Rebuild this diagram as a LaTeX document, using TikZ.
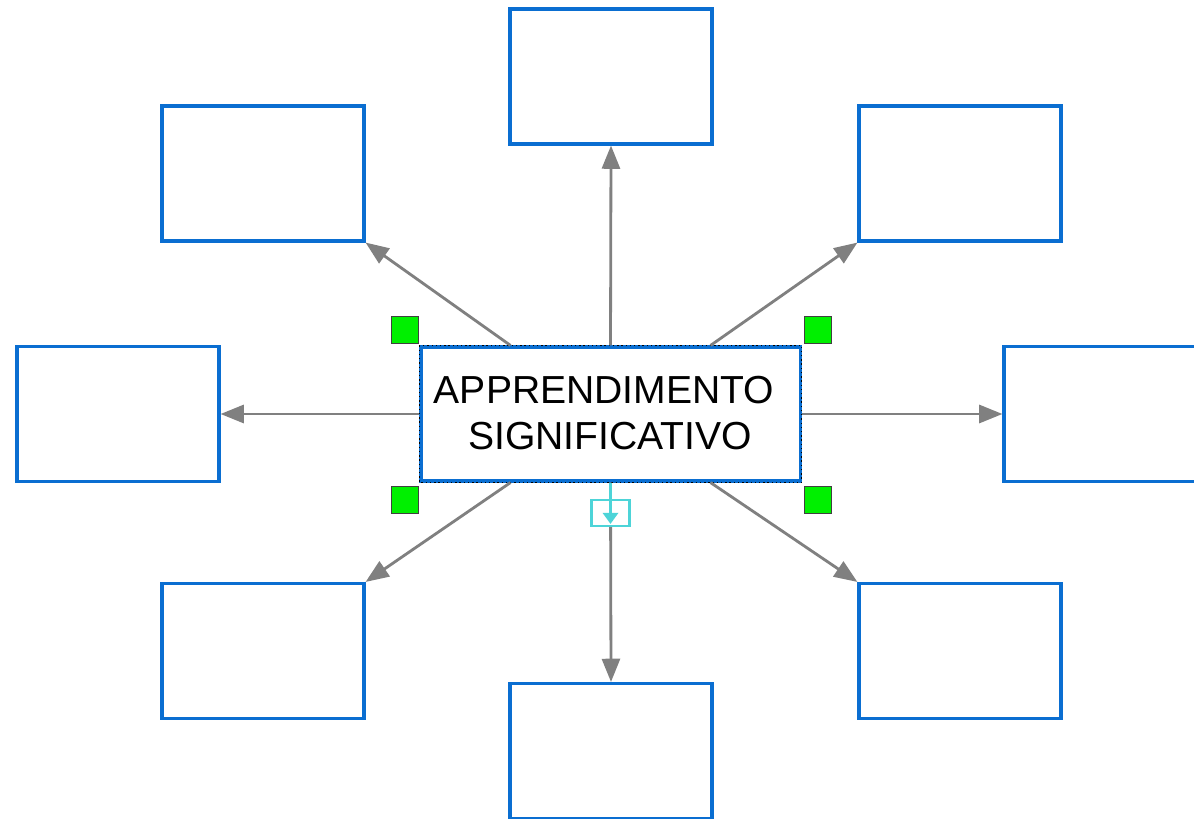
\documentclass[tikz,border=0pt]{standalone}
\usepackage{fontspec}
\setmainfont{Liberation Sans}
\usetikzlibrary{arrows.meta, positioning, calc}
\definecolor{boxblue}{HTML}{0A6ED1}
\definecolor{linkgray}{HTML}{808080}
\definecolor{handlegreen}{HTML}{00F000}
\definecolor{iconcyan}{HTML}{4DD4D8}

\begin{document}
\begin{tikzpicture}[x=0.025cm, y=-0.025cm,
    conceptbox/.style={draw=boxblue, line width=2.2pt, fill=white, minimum width=5.05cm, minimum height=3.375cm},
    link/.style={draw=linkgray, line width=2pt, -{Triangle[length=0.58cm, width=0.45cm]}},
    handle/.style={draw=black!75, line width=0.7pt, fill=handlegreen, minimum size=0.68cm, inner sep=0pt}]
    \useasboundingbox (0,0) rectangle (1194,819);
    \clip (0,0) rectangle (1194,819);
    \fill[white] (0,0) rectangle (1194,819);
    % central concept
    \node[draw=boxblue, line width=2.2pt, minimum width=9.475cm, minimum height=3.35cm] at (610.5,414) (main) {};
    \node[align=center, font=\fontsize{27.8}{32.5}\selectfont] at (604,413) (maintext) {APPRENDIMENTO\\\hspace*{0.3cm}SIGNIFICATIVO};
    \draw[black, line width=1pt, dotted] (main.north west) rectangle (main.south east);
    % empty boxes around it
    \node[conceptbox] at (611,76.5) (top) {};
    \node[conceptbox] at (263,173.5) (topleft) {};
    \node[conceptbox] at (960,173.5) (topright) {};
    \node[conceptbox] at (118,414) (left) {};
    \node[conceptbox] at (1105,414) (right) {};
    \node[conceptbox] at (263,651) (botleft) {};
    \node[conceptbox] at (960,651) (botright) {};
    \node[conceptbox] at (611,751) (bot) {};
    % connectors
    \draw[link] (main.north) -- (top.south);
    \draw[link] ($(main.north)+(-100,0)$) -- (topleft.south east);
    \draw[link] ($(main.north)+(100,0)$) -- (topright.south west);
    \draw[link] (main.west) -- (left.east);
    \draw[link] (main.east) -- (right.west);
    \draw[link] ($(main.south)+(-100,0)$) -- (botleft.north east);
    \draw[link] ($(main.south)+(100,0)$) -- (botright.north west);
    \draw[link] (main.south) -- (bot.north);
    % selection handles
    \node[handle, anchor=south east] at ($(main.north west)+(0,-1)$) (hnw) {};
    \node[handle, anchor=south west] at ($(main.north east)+(2,-1)$) (hne) {};
    \node[handle, anchor=north east] at ($(main.south west)+(0,3)$) (hsw) {};
    \node[handle, anchor=north west] at ($(main.south east)+(2,3)$) (hse) {};
    % expand icon
    \node[draw=iconcyan, line width=1.8pt, fill=white, minimum width=0.95cm, minimum height=0.65cm, inner sep=0pt,
          below=0.4cm of main.south] (expand) {};
    \draw[iconcyan, line width=1.8pt] (main.south) -- ($(expand.center)+(0,2)$);
    \fill[iconcyan] ($(expand.center)+(-8,0)$) -- ($(expand.center)+(8,0)$) -- ($(expand.center)+(0,11)$) -- cycle;
\end{tikzpicture}
\end{document}
